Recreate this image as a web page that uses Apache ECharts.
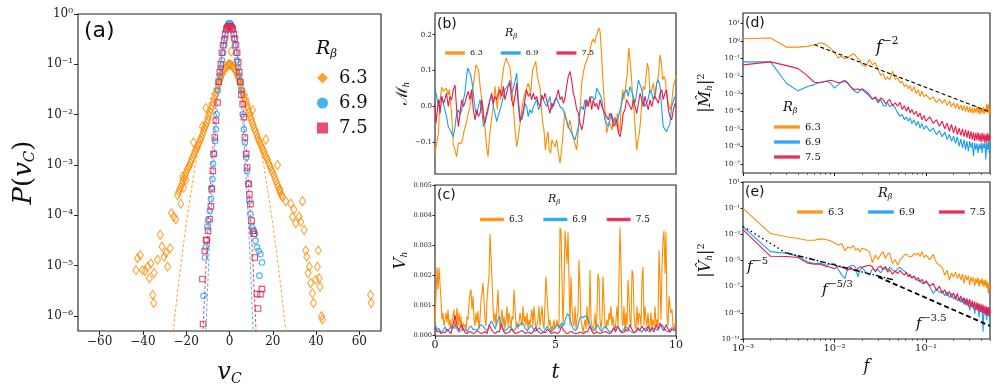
<!DOCTYPE html>
<html>
<head>
<meta charset="utf-8">
<script src="https://cdn.jsdelivr.net/npm/echarts@6/dist/echarts.min.js"></script>
<style>
  html, body { margin: 0; background: #fff; }
  #chart { width: 997px; height: 391px; }
</style>
</head>
<body>
<div id="chart"></div>
<script>
// colours / fonts
const C63 = "#ff8c00";
const C69 = "#1a9fef";
const C75 = "#e61e4b";
const SERIF = "DejaVu Serif";
const SANS = "DejaVu Sans";
const INK = "#111";

// ---- (a) PDF of v_C : [v, P] ----
const pdf63 = [
  [-24,2.5e-4],[-23.5,2.9e-4],[-23,3.2e-4],[-22.5,3.6e-4],[-22,4.2e-4],[-21.5,4.9e-4],[-21,5.4e-4],[-20.5,6.0e-4],
  [-20,7.1e-4],[-19.5,8.2e-4],[-19,8.9e-4],[-18.5,9.6e-4],[-18,1.1e-3],[-17.5,1.25e-3],[-17,1.4e-3],[-16.5,1.6e-3],
  [-16,1.8e-3],[-15.5,2.0e-3],[-15,2.2e-3],[-14.5,2.4e-3],[-14,2.8e-3],[-13.5,3.2e-3],[-13,3.5e-3],[-12.5,4.0e-3],
  [-12,4.7e-3],[-11.5,5.4e-3],[-11,6.0e-3],[-10.5,6.8e-3],[-10,7.9e-3],[-9.5,9.5e-3],[-9,1.1e-2],[-8.5,1.3e-2],
  [-8,1.5e-2],[-7.5,1.75e-2],[-7,2.1e-2],[-6.5,2.5e-2],[-6,2.8e-2],[-5.5,3.3e-2],[-5,4.0e-2],[-4.5,4.7e-2],
  [-4,5.4e-2],[-3.5,6.3e-2],[-3,7.1e-2],[-2.5,7.8e-2],[-2,8.5e-2],[-1.5,9.0e-2],[-1,9.5e-2],[-0.5,9.8e-2],[0,0.1],
  [0.5,9.8e-2],[1,9.5e-2],[1.5,9.1e-2],[2,8.5e-2],[2.5,7.8e-2],[3,7.1e-2],[3.5,6.2e-2],[4,5.4e-2],[4.5,4.7e-2],
  [5,4.0e-2],[5.5,3.4e-2],[6,2.8e-2],[6.5,2.4e-2],[7,2.1e-2],[7.5,1.8e-2],[8,1.5e-2],[8.5,1.3e-2],[9,1.1e-2],
  [9.5,9.2e-3],[10,7.9e-3],[10.5,7.0e-3],[11,6.0e-3],[11.5,5.2e-3],[12,4.7e-3],[12.5,4.1e-3],[13,3.5e-3],
  [13.5,3.1e-3],[14,2.8e-3],[14.5,2.5e-3],[15,2.2e-3],[15.5,2.0e-3],[16,1.8e-3],[16.5,1.55e-3],[17,1.4e-3],
  [17.5,1.3e-3],[18,1.1e-3],[18.5,1.0e-3],[19,8.9e-4],[19.5,7.8e-4],[20,7.1e-4],[20.5,6.2e-4],[21,5.4e-4],
  [21.5,4.8e-4],[22,4.2e-4],[22.5,3.7e-4],[23,3.2e-4],[23.5,2.8e-4],[24,2.5e-4],
  [-43.2,8.1e-6],[-42.5,1.4e-5],[-41.2,1.6e-5],[-40.2,8.1e-6],[-39,7.9e-6],[-37.8,9.5e-6],[-37,5.6e-6],[-36.3,1.1e-5],
  [-35.5,2.6e-6],[-35,1.8e-6],[-34.8,7.1e-6],[-33.2,1.3e-5],[-32,4.1e-5],[-31.2,2.4e-5],[-30.2,1.5e-5],[-29.4,1.8e-5],
  [-28.6,9.5e-6],[-27.4,2.2e-5],[-26.8,1.1e-4],[-25.8,9.3e-5],[-24.8,8.3e-5],[-22.5,1.7e-4],[-21.7,5.9e-4],
  [-21.2,3.5e-4],[-20.2,5e-4],[-16.6,2.8e-3],[-12.5,5.8e-3],[-10.9,1.35e-2],[0.8,0.18],[10.6,1.23e-2],[16.8,3.2e-3],
  [22.2,1e-3],[23.4,3.2e-4],[24.5,2.3e-4],[26,1.9e-4],[28.3,1.7e-4],[29.1,9.3e-5],[29.8,1.3e-4],[30.6,6.9e-5],
  [32.2,9.3e-5],[32.9,7.4e-5],[33.7,1.9e-4],[34.5,5.1e-5],[35.2,2e-5],[35.7,1.5e-5],[36.3,7.1e-6],[36.9,9.5e-6],
  [37.5,4.5e-6],[38.3,2.8e-6],[38.8,1.8e-6],[39.8,5.2e-6],[40.6,9.5e-6],[41,2e-5],[41.4,5.6e-6],[41.8,3.8e-6],
  [42.5,9.8e-7],[42.9,8.5e-7],[65.2,2.6e-6],[65.5,1.8e-6]
];
const pdf69 = [
  [-12,2.5e-6],[-11.3,1.45e-5],[-10.9,2.3e-5],[-10.2,5.8e-5],[-9.9,7.8e-5],[-9.1,1.23e-4],[-8.6,2.1e-4],[-8.3,3.5e-4],
  [-7.9,5.2e-4],[-7.6,1.05e-3],[-7.1,1.66e-3],[-6.6,3e-3],[-6.3,5.1e-3],[-6,1.02e-2],[-5.5,3e-2],[-5,0.045],
  [-4.5,0.06],[-4,0.085],[-3.5,0.12],[-3,0.17],[-2.5,0.24],[-2,0.33],[-1.5,0.47],[-1,0.57],[-0.5,0.64],[0,0.66],
  [0.5,0.64],[1,0.57],[1.5,0.47],[2,0.33],[2.5,0.24],[3,0.17],[3.5,0.12],[4,0.085],[4.5,0.06],[5,0.045],[5.5,0.03],
  [6.1,1.02e-2],[6.6,5.1e-3],[7.1,2.8e-3],[7.7,1.4e-3],[8.1,7.6e-4],[8.6,4.2e-4],[9.2,1.95e-4],[9.7,1.05e-4],
  [10.4,5.8e-5],[11.2,4.9e-5],[11.7,4.3e-5],[12,3.1e-5],[12.7,2.3e-5],[13.5,1.95e-5],[13.8,6.3e-6],[14.3,1.7e-5],[15,1.15e-5]
];
const pdf75 = [
  [-12.5,5.4e-6],[-12.2,6.9e-7],[-11.4,1.95e-5],[-10.8,3.2e-5],[-10.5,3.2e-5],[-9.9,4.9e-5],[-9.2,8.3e-5],[-8.6,1.5e-4],
  [-8.2,3.3e-4],[-7.7,7.6e-4],[-7.4,1.66e-3],[-6.8,3.5e-3],[-6.3,7.6e-3],[-5.5,1.74e-2],[-5,4.5e-2],[-4.5,7e-2],
  [-4,0.1],[-3.5,0.17],[-3,0.24],[-2.5,0.3],[-2,0.4],[-1.5,0.5],[-1,0.54],[-0.5,0.57],[0,0.58],[0.5,0.57],[1,0.54],
  [1.5,0.5],[2,0.4],[2.5,0.32],[3,0.24],[3.5,0.17],[4,0.11],[4.5,0.07],[5,0.045],[5.5,2.5e-2],[6.1,1.62e-2],
  [6.6,8.9e-3],[7.1,3.5e-3],[7.7,1.66e-3],[8.1,8.9e-4],[8.9,4.2e-4],[9.2,2.6e-4],[9.7,1.66e-4],[10.2,7.8e-5],
  [10.8,4.9e-5],[11.2,4.3e-5],[11.7,1.45e-5],[12.7,2.7e-6],[13.2,1.4e-6],[14.3,2.7e-6],[15,3.4e-6]
];
// dashed Gaussian fits
const fit63 = [[-27,1.95e-7],[-26,5e-7],[-24,3e-6],[-22,1.5e-5],[-20,6.8e-5],[-16,8.9e-4],[-12,6.5e-3],[-8,0.0272],[-4,0.064],[0,0.085],
  [4,0.064],[8,0.0272],[12,6.5e-3],[16,8.9e-4],[20,6.8e-5],[22,1.5e-5],[24,3e-6],[26,5e-7],[27,1.95e-7]];
const fit69 = [[-11,3.9e-7],[-10,4.7e-6],[-9,4.5e-5],[-8,3.3e-4],[-6,9.3e-3],[-4,0.099],[-2,0.41],[0,0.66],
  [2,0.41],[4,0.099],[6,9.3e-3],[8,3.3e-4],[9,4.5e-5],[10,4.7e-6],[11,3.9e-7]];
const fit75 = [[-12.6,2.2e-7],[-12,8.7e-7],[-11,7.4e-6],[-10,5.2e-5],[-8,1.48e-3],[-6,0.0204],[-4,0.13],[-2,0.4],[0,0.575],
  [2,0.4],[4,0.13],[6,0.0204],[8,1.48e-3],[10,5.2e-5],[11,7.4e-6],[12,8.7e-7],[12.6,2.2e-7]];

// ---- (b) M_h(t) : [t, M] ----
const mh63 = [[0,-0.130],[0.07,-0.126],[0.14,-0.074],[0.21,0.019],[0.28,0.054],[0.35,0.042],[0.46,0.051],[0.55,0.033],[0.59,0.048],[0.69,-0.019],[0.76,-0.107],[0.83,-0.121],[0.90,-0.140],[0.97,-0.102],[1.04,-0.098],[1.11,-0.102],[1.20,-0.070],[1.31,-0.042],[1.38,-0.019],[1.45,0.000],[1.52,0.028],[1.62,0.074],[1.70,0.116],[1.76,0.121],[1.81,0.102],[1.87,0.056],[1.94,0.019],[2.01,-0.009],[2.07,-0.056],[2.14,-0.112],[2.20,-0.140],[2.25,-0.093],[2.32,-0.047],[2.42,0.000],[2.49,0.056],[2.53,0.028],[2.59,-0.009],[2.64,0.056],[2.72,0.019],[2.78,0.074],[2.86,0.112],[2.95,0.135],[3.00,0.126],[3.06,0.116],[3.11,0.107],[3.18,0.065],[3.25,0.000],[3.32,-0.065],[3.39,-0.112],[3.46,-0.084],[3.53,-0.047],[3.60,-0.009],[3.69,0.028],[3.78,0.047],[3.87,0.065],[3.97,0.037],[4.05,0.102],[4.11,0.112],[4.18,0.126],[4.25,0.084],[4.30,0.088],[4.36,0.051],[4.41,0.000],[4.47,-0.047],[4.52,-0.065],[4.58,-0.121],[4.63,-0.093],[4.69,-0.070],[4.74,-0.121],[4.80,-0.130],[4.85,-0.093],[4.91,-0.102],[4.98,-0.112],[5.05,-0.093],[5.12,-0.130],[5.19,-0.158],[5.26,-0.112],[5.33,-0.065],[5.38,-0.014],[5.44,-0.037],[5.53,-0.060],[5.60,-0.037],[5.67,-0.065],[5.74,-0.088],[5.81,-0.093],[5.88,-0.121],[5.95,-0.065],[6.02,-0.009],[6.09,0.065],[6.15,0.093],[6.22,0.116],[6.29,0.126],[6.36,0.121],[6.40,0.149],[6.46,0.167],[6.51,0.181],[6.57,0.188],[6.63,0.177],[6.68,0.195],[6.74,0.205],[6.79,0.219],[6.85,0.209],[6.90,0.158],[6.96,0.084],[7.01,0.028],[7.07,-0.028],[7.12,-0.074],[7.18,-0.056],[7.23,-0.042],[7.29,-0.047],[7.34,-0.065],[7.40,-0.037],[7.46,-0.028],[7.51,-0.056],[7.57,-0.019],[7.62,-0.074],[7.68,-0.065],[7.73,0.009],[7.79,0.047],[7.84,0.019],[7.93,0.065],[7.98,0.093],[8.04,0.163],[8.09,0.130],[8.15,0.084],[8.20,0.028],[8.26,-0.014],[8.31,-0.065],[8.37,-0.121],[8.42,-0.093],[8.48,-0.074],[8.53,-0.037],[8.59,0.019],[8.64,0.056],[8.70,0.047],[8.76,0.084],[8.81,0.121],[8.87,0.102],[8.92,0.037],[9.00,0.047],[9.06,0.065],[9.13,0.019],[9.20,0.065],[9.27,0.084],[9.34,0.144],[9.39,0.121],[9.45,0.074],[9.50,0.084],[9.56,0.074],[9.61,0.028],[9.68,0.009],[9.75,-0.009],[9.82,0.009],[9.89,0.056],[9.96,0.074],[10.0,0.084]];
const mh69 = [[0,0.051],[0.07,0.028],[0.14,0],[0.21,0.019],[0.28,0.028],[0.35,0.009],[0.41,-0.009],[0.48,-0.028],[0.55,-0.056],[0.62,-0.065],[0.69,-0.060],[0.76,-0.084],[0.83,-0.056],[0.90,-0.019],[0.97,-0.009],[1.04,-0.023],[1.11,-0.009],[1.18,0.019],[1.24,0.037],[1.31,0.084],[1.36,0.107],[1.42,0.098],[1.48,0.088],[1.52,0.074],[1.56,0.056],[1.62,0.019],[1.67,-0.009],[1.73,-0.023],[1.80,0],[1.87,0.019],[1.94,-0.009],[2.01,-0.056],[2.07,-0.060],[2.14,-0.028],[2.21,-0.009],[2.28,0.019],[2.35,0.028],[2.42,0],[2.49,-0.019],[2.56,-0.042],[2.63,-0.023],[2.70,-0.009],[2.77,0.009],[2.84,0.028],[2.90,0.047],[2.97,0.051],[3.04,0.060],[3.11,0.074],[3.18,0.037],[3.25,0.051],[3.32,0.070],[3.39,0.093],[3.46,0.019],[3.53,-0.028],[3.60,-0.037],[3.67,-0.019],[3.73,0.009],[3.80,0],[3.87,-0.028],[3.94,-0.009],[4.01,-0.019],[4.08,0],[4.15,0.009],[4.22,0.019],[4.29,-0.009],[4.36,0],[4.43,0.033],[4.50,0.019],[4.56,0.009],[4.63,0],[4.70,0.014],[4.77,0.028],[4.84,-0.009],[4.91,0.009],[5.05,0.023],[5.19,0],[5.33,-0.009],[5.46,-0.037],[5.53,-0.056],[5.60,-0.065],[5.67,-0.074],[5.74,-0.084],[5.81,-0.093],[5.88,-0.074],[5.95,-0.056],[6.02,-0.009],[6.09,0],[6.15,-0.009],[6.22,0.019],[6.29,0],[6.36,0.009],[6.43,0.019],[6.50,0.028],[6.57,0.033],[6.64,0.019],[6.71,0.051],[6.78,0.047],[6.85,0.033],[6.92,0.019],[6.98,-0.009],[7.05,-0.037],[7.12,-0.047],[7.19,-0.056],[7.26,-0.037],[7.33,-0.019],[7.40,-0.047],[7.47,-0.033],[7.54,-0.042],[7.61,-0.028],[7.68,-0.009],[7.75,0.009],[7.81,0.033],[7.88,0.028],[7.95,0.047],[8.02,0.028],[8.09,0.056],[8.16,0.051],[8.23,0.028],[8.30,0.009],[8.37,0.037],[8.44,0.074],[8.51,0.060],[8.58,0.047],[8.64,0.019],[8.71,0],[8.78,0.009],[8.85,0.023],[8.92,0.047],[8.99,0.037],[9.06,0.019],[9.13,0.037],[9.20,0.065],[9.27,0.074],[9.34,0.056],[9.41,-0.009],[9.47,-0.056],[9.54,-0.060],[9.61,-0.070],[9.68,-0.065],[9.75,-0.047],[9.82,0],[9.89,0.014],[9.96,0.028],[10,0.037]];
const mh75 = [[0,0.009],[0.04,-0.047],[0.10,-0.009],[0.15,0.019],[0.21,-0.019],[0.28,0.028],[0.35,0.009],[0.41,0.019],[0.48,0.037],[0.55,0],[0.62,0.028],[0.69,0.019],[0.76,0.047],[0.83,0.060],[0.90,-0.009],[0.97,-0.056],[1.04,-0.019],[1.11,0.019],[1.18,0],[1.24,0.009],[1.31,0.028],[1.38,0.042],[1.45,0.019],[1.52,0.047],[1.59,-0.009],[1.66,-0.037],[1.73,-0.009],[1.80,-0.028],[1.87,-0.019],[1.94,0.019],[2.01,-0.028],[2.07,-0.047],[2.14,-0.019],[2.21,0],[2.28,0.019],[2.35,0.037],[2.42,0.009],[2.49,0.028],[2.56,0.019],[2.63,0.037],[2.70,0.047],[2.77,0.028],[2.84,0.056],[2.90,0.019],[2.97,0.037],[3.04,0.056],[3.11,0.065],[3.18,0.019],[3.25,0],[3.32,0.028],[3.39,0.065],[3.46,0],[3.53,-0.042],[3.60,-0.028],[3.67,-0.009],[3.73,0.019],[3.80,0.047],[3.87,0.028],[3.94,0.037],[4.01,0.019],[4.08,0.037],[4.15,0.019],[4.22,0.028],[4.29,0.009],[4.36,0],[4.43,0.028],[4.50,0.019],[4.56,0.037],[4.63,0.019],[4.70,0],[4.77,-0.019],[4.84,0.009],[4.91,0],[4.98,0.019],[5.05,0.028],[5.12,0.047],[5.19,0.019],[5.26,0.028],[5.33,0.009],[5.39,0.023],[5.46,0.056],[5.53,0.084],[5.60,0.098],[5.67,0.074],[5.74,0.037],[5.81,0.019],[5.88,-0.009],[5.95,-0.019],[6.02,-0.047],[6.09,-0.065],[6.15,-0.047],[6.22,-0.009],[6.29,0.019],[6.36,0],[6.43,0.028],[6.50,-0.009],[6.57,0.019],[6.64,0],[6.71,0.009],[6.78,-0.009],[6.85,0.019],[6.92,0],[6.98,-0.009],[7.05,-0.019],[7.12,-0.028],[7.19,-0.037],[7.26,-0.019],[7.33,-0.028],[7.40,-0.056],[7.47,-0.047],[7.54,-0.037],[7.61,-0.074],[7.68,-0.084],[7.75,-0.056],[7.81,-0.019],[7.88,-0.009],[7.95,0.019],[8.02,0.009],[8.09,0],[8.16,-0.009],[8.23,0.019],[8.30,0],[8.37,-0.019],[8.44,0.009],[8.51,0.037],[8.58,0.019],[8.64,0],[8.71,0.028],[8.78,0.009],[8.85,-0.009],[8.92,0.019],[8.99,0],[9.06,0.019],[9.13,0.028],[9.20,0.019],[9.27,0.009],[9.34,0.037],[9.41,0.047],[9.47,0.019],[9.54,0.037],[9.61,0.047],[9.68,-0.009],[9.75,-0.028],[9.82,-0.037],[9.89,-0.009],[9.96,0.009],[10,0]];

// ---- (c) V_h(t), evenly sampled over t = 0..10, values in units of 1e-3 ----
const vh63 = [0.31,1.29,2.25,1.51,2.25,2.25,1.18,0.52,0.74,0.31,0.52,0.74,0.42,0.85,0.31,0.52,0.20,0.42,0.63,0.85,0.20,0.52,0.91,0.31,0.74,0.31,0.63,0.14,0.42,0.25,0.36,0.14,0.63,0.52,1.07,1.40,1.51,0.85,1.29,0.52,0.31,0.74,0.42,0.80,0.20,0.52,1.18,1.40,1.73,1.18,0.52,0.31,1.18,1.62,1.95,3.37,2.60,1.84,0.96,0.42,0.74,0.31,0.96,1.51,0.52,0.20,0.52,0.85,0.31,0.63,0.20,0.52,0.96,0.31,0.74,0.52,0.20,0.63,0.52,1.51,0.96,0.31,0.42,0.20,0.42,0.74,0.52,0.31,0.96,0.42,0.63,0.31,0.74,0.20,0.52,0.31,0.63,0.85,0.31,0.96,0.52,0.20,0.31,0.52,0.96,0.31,0.63,0.96,0.42,0.20,1.07,1.95,2.00,0.74,0.31,0.52,0.09,0.31,0.20,0.52,0.20,0.31,0.52,0.31,0.20,3.58,3.48,1.84,0.31,1.51,3.48,3.42,2.38,3.42,1.84,0.31,1.95,0.96,0.42,0.31,0.96,0.20,0.52,0.74,2.49,1.62,0.52,0.31,0.09,0.31,0.52,0.20,0.96,0.31,0.42,2.16,0.52,0.31,0.20,0.31,0.74,0.09,0.74,2.05,1.84,0.52,0.20,0.52,1.95,1.07,0.31,0.20,0.52,0.31,0.74,0.52,0.96,0.31,0.63,0.31,0.09,0.52,0.96,0.31,1.84,3.58,2.38,0.52,0.31,0.96,0.09,0.74,0.31,1.84,1.18,0.52,0.31,2.16,2.05,0.74,0.31,0.20,0.96,0.31,0.74,0.63,0.31,1.84,2.27,0.31,0.96,0.52,0.31,0.74,0.20,0.31,0.74,0.20,0.52,0.31,0.96,0.31,0.52,0.31,2.82,1.84,0.52,2.27,3.15,3.48,2.05,3.42,0.63,0.31,1.29,0.96,0.74,0.85,0.31,0.20,0.42,0.31];
const vh69 = [0.38,0.18,0.22,0.10,0.15,0.28,0.12,0.20,0.30,0.22,0.36,0.20,
  0.10,0.15,0.22,0.18,0.12,0.25,0.30,0.18,0.20,0.15,0.28,0.35,
  0.30,0.20,0.15,0.30,0.47,0.35,0.20,0.45,0.62,0.40,0.20,0.15,
  0.20,0.30,0.25,0.15,0.20,0.35,0.30,0.42,0.38,0.20,0.15,0.25,
  0.32,0.20,0.12,0.18,0.25,0.15,0.10,0.20,0.30,0.18,0.12,0.20,
  0.28,0.35,0.25,0.40,0.30,0.55,0.72,0.60,0.35,0.20,0.15,0.25,
  0.55,0.62,0.58,0.65,0.60,0.40,0.20,0.15,0.25,0.35,0.20,0.12,
  0.25,0.30,0.18,0.10,0.15,0.22,0.30,0.25,0.18,0.12,0.20,0.28,
  0.22,0.15,0.10,0.08,0.12,0.18,0.15,0.10,0.20,0.25,0.15,0.10,
  0.18,0.25,0.20,0.15,0.30,0.35,0.25,0.15,0.10,0.18,0.25,0.20,0.25];
const vh75 = [0.25,0.10,0.15,0.05,0.10,0.08,0.20,0.12,0.05,0.35,0.66,0.30,
  0.15,0.35,0.20,0.08,0.05,0.12,0.10,0.05,0.08,0.15,0.10,0.05,
  0.08,0.12,0.05,0.35,0.20,0.10,0.05,0.12,0.10,0.35,0.15,0.05,
  0.08,0.10,0.20,0.12,0.05,0.08,0.10,0.15,0.12,0.05,0.10,0.08,
  0.05,0.12,0.25,0.15,0.08,0.05,0.10,0.08,0.20,0.12,0.05,0.10,
  0.08,0.05,0.10,0.30,0.15,0.08,0.05,0.10,0.12,0.08,0.05,0.06,
  0.10,0.08,0.05,0.12,0.10,0.30,0.15,0.05,0.08,0.10,0.05,0.08,
  0.10,0.12,0.08,0.05,0.10,0.25,0.12,0.30,0.15,0.08,0.10,0.20,
  0.12,0.35,0.20,0.08,0.10,0.25,0.15,0.30,0.20,0.12,0.30,0.15,
  0.25,0.10,0.35,0.20,0.40,0.25,0.15,0.35,0.20,0.10,0.20,0.15,0.20];
const T_END = 10;

// ---- (d), (e) spectra on a common frequency list ----
const freq = [0.001,0.002,0.003,0.004,0.005,0.006,0.007,0.008,0.009,0.010,0.011,0.012,0.013,0.014,0.015,0.016,0.017,0.018,0.019,0.020,
  0.022,0.024,0.026,0.028,0.030,0.032,0.034,0.036,0.038,0.040,
  0.043,0.046,0.049,0.052,0.055,0.058,0.061,0.064,0.067,0.070,
  0.074,0.078,0.082,0.086,0.090,0.095,0.100,
  0.11,0.12,0.13,0.14,0.15,0.16,0.17,0.18,0.19,0.20,0.21,0.22,0.23,0.24,0.25,0.26,0.27,0.28,0.29,0.30,
  0.31,0.32,0.33,0.34,0.35,0.36,0.37,0.38,0.39,0.40,0.41,0.42,0.43,0.44,0.45,0.46,0.47,0.48,0.49,0.50];
const specM63 = [1.35,1.5,0.45,0.45,0.5,0.6,0.8,0.63,0.4,0.23,0.11,0.14,0.095,0.126,0.15,0.19,0.15,0.1,0.08,0.045,
  0.037,0.09,0.045,0.058,0.024,0.011,0.014,0.0065,0.009,0.006,
  0.019,0.0065,0.008,0.0042,0.0051,0.0025,0.0033,0.0019,0.0029,0.0014,
  0.0025,0.001,0.0017,7e-4,0.0014,6.6e-4,9e-4,
  4.7e-4,6.6e-4,3.2e-4,5e-4,2.75e-4,4.7e-4,2.1e-4,3.7e-4,1.8e-4,3e-4,1.5e-4,2.75e-4,1.26e-4,2.3e-4,1.05e-4,2.1e-4,9.5e-5,1.95e-4,8.7e-5,1.8e-4,
  8e-5,1.6e-4,7.4e-5,1.5e-4,8.7e-5,1.95e-4,7.4e-5,1.55e-4,6.5e-5,1.5e-4,8e-5,1.8e-4,6.8e-5,1.4e-4,8.7e-5,2.75e-4,8e-5,2.4e-4,6.5e-5,1.55e-4];
const specM69 = [0.065,0.065,3.8e-3,1.45e-3,2.5e-3,3.3e-3,4.5e-3,5.1e-3,4.2e-3,2.1e-3,3.3e-3,5.1e-3,5.6e-3,4.2e-3,2.5e-3,1.6e-3,1.3e-3,1.1e-3,1.6e-3,1.7e-3,
  1.1e-3,7.2e-4,4.7e-4,5.8e-4,3e-4,4.7e-4,2.1e-4,1.95e-4,3e-4,1.8e-4,
  2.3e-4,1.55e-4,8e-5,5.1e-5,6.5e-5,3.3e-5,4.8e-5,2.7e-5,4.2e-5,2e-5,
  3.2e-5,1.5e-5,2.7e-5,1.1e-5,2e-5,9e-6,1.5e-5,
  7.2e-6,1.1e-5,4.7e-6,8e-6,3.5e-6,6.3e-6,2.4e-6,4.7e-6,1.95e-6,3.8e-6,1.45e-6,3.5e-6,1e-6,2.6e-6,8e-7,2.4e-6,6.5e-7,1.95e-6,5.2e-7,1.95e-6,
  8e-7,1.7e-6,2.7e-7,1.6e-6,6.5e-7,1.45e-6,4.2e-7,1.3e-6,7e-7,1.6e-6,4e-7,1.45e-6,8e-7,1.7e-6,1.75e-7,1.6e-6,6.5e-7,1.95e-6,4.2e-7,1e-6];
const specM75 = [0.044,0.065,0.04,0.027,0.011,4.5e-3,4.2e-3,5.1e-3,5.9e-3,5.1e-3,4.2e-3,4.5e-3,5.3e-3,3.8e-3,2.5e-3,1.9e-3,1.7e-3,1.9e-3,1.6e-3,1.9e-3,
  1.4e-3,9e-4,5e-4,6.6e-4,3.7e-4,5.8e-4,4.7e-4,2.75e-4,3.7e-4,4.7e-4,
  2.1e-4,3e-4,1.95e-4,3.2e-4,1.26e-4,2.1e-4,1e-4,1.8e-4,8e-5,1.26e-4,
  6.5e-5,1e-4,4.8e-5,8e-5,3.3e-5,5.7e-5,2.7e-5,
  4.8e-5,2e-5,3.3e-5,1.4e-5,2.7e-5,1e-5,2.1e-5,7.2e-6,1.75e-5,5.8e-6,1.4e-5,4.7e-6,1.1e-5,4.2e-6,1e-5,3.5e-6,9e-6,3.1e-6,8e-6,2.6e-6,
  7.2e-6,2.4e-6,6.3e-6,1.95e-6,5.8e-6,2.2e-6,6.3e-6,1.95e-6,5.3e-6,1.7e-6,5.8e-6,1.95e-6,5.3e-6,1.6e-6,4.7e-6,1.7e-6,5.8e-6,1.95e-6,4.7e-6,2.4e-6];
const specV63 = [0.095,1.15e-3,6.5e-4,4.8e-4,3.5e-4,3.5e-4,4.5e-4,4e-4,3.2e-4,2.2e-4,1.5e-4,2e-4,5.5e-5,1.1e-4,8.5e-5,1.4e-4,6.2e-5,8.5e-5,4.6e-5,8.5e-5,
  7e-5,4.6e-5,6.8e-6,2.6e-5,1.2e-5,3e-5,4.6e-5,1.4e-5,3e-5,3.8e-5,
  5.9e-6,1.2e-5,4.4e-6,1.1e-5,1.7e-5,2.6e-5,3e-5,2.1e-5,2.6e-5,2e-5,
  3.4e-5,2.6e-5,3.8e-5,2.1e-5,4.6e-5,1.7e-5,2.6e-5,
  1.1e-5,3e-5,6.6e-6,4.4e-6,3e-6,7.6e-7,1.8e-6,3.2e-7,1.1e-6,5.6e-7,1.3e-6,4.3e-7,1e-6,3.2e-7,9e-7,1.8e-7,7.6e-7,3.2e-7,6.4e-7,1.3e-7,
  5.6e-7,2.4e-7,5e-7,1.1e-7,4.3e-7,1.8e-7,5e-7,9.8e-8,3.6e-7,1.6e-7,4.3e-7,9.8e-8,3.2e-7,1.1e-7,3.6e-7,8.5e-8,2.4e-7,3e-8,1.8e-7,8.5e-8];
const specV69 = [3.7e-3,4.8e-5,3.6e-5,2e-5,8.3e-6,5.9e-6,6.3e-6,4.4e-6,5.2e-6,5.9e-6,2e-6,8e-7,4.3e-7,3e-6,4e-6,4.4e-6,3e-6,5.6e-7,1.8e-6,3e-6,
  1.3e-6,7.6e-7,2.4e-6,1.8e-6,2e-6,1.1e-6,2.4e-6,3.7e-6,1.8e-6,3e-6,
  2e-6,1.3e-6,2.4e-6,3e-6,2e-6,1.6e-6,1.1e-6,7.6e-7,1e-6,5e-7,
  6.4e-7,3.6e-7,5e-7,2.4e-7,3.2e-7,1.6e-7,2.4e-7,
  9.8e-8,3e-8,7e-8,3.4e-8,5e-8,2e-8,4e-8,1.5e-8,3e-8,1.1e-8,2e-8,8.5e-9,1.5e-8,6.3e-9,1.3e-8,4.2e-9,1.1e-8,3.5e-9,8.5e-9,1.5e-9,
  6.3e-9,2.6e-9,5.4e-9,8.3e-10,4.2e-9,1.7e-9,4.8e-9,4.7e-10,3e-9,1.2e-9,3.5e-9,3.6e-11,2e-9,8.3e-10,2.8e-9,2.8e-10,2e-9,6e-10,1.5e-9,8.7e-11];
const specV75 = [2.3e-3,2.1e-5,2e-5,1.7e-5,6.6e-6,5.2e-6,5.2e-6,3.7e-6,3e-6,2.4e-6,3.7e-6,3e-6,2.4e-6,1.8e-6,3e-6,2e-6,1.6e-6,2.4e-6,3.3e-6,3e-6,
  3.7e-6,4.4e-6,3.3e-6,1.3e-6,3e-6,3.7e-6,2e-6,3e-6,1.3e-6,2e-6,
  9e-7,1.6e-6,1e-6,1.8e-6,1.1e-6,7.6e-7,1.3e-6,5.6e-7,9e-7,4.3e-7,
  6.4e-7,3.2e-7,5e-7,2.4e-7,3.6e-7,1.8e-7,2.8e-7,
  1.1e-7,1.8e-7,5e-8,1.1e-7,3e-8,5.8e-8,2e-8,4.4e-8,1.5e-8,3.4e-8,1.1e-8,3e-8,7.5e-9,2e-8,6.3e-9,1.5e-8,4.2e-9,1.3e-8,3e-9,1.1e-8,
  2.8e-9,8.5e-9,2e-9,7.5e-9,1.7e-9,6.3e-9,1.4e-9,5.4e-9,1.2e-9,4.8e-9,1e-9,4.2e-9,8.3e-10,3.5e-9,6e-10,3e-9,7e-10,2.8e-9,5e-10,2e-9];
// reference power laws
const lawD2 = [[0.006,0.63],[0.5,9e-5]];
const lawE5 = [[0.001,4e-3],[0.003,3.5e-5]];
const lawE53 = [[0.003,3.8e-5],[0.045,3.2e-7]];
const lawE35 = [[0.03,5.6e-7],[0.5,1e-10]];

// tick values
const ticksA_x = [-60,-40,-20,0,20,40,60];
const ticksA_y = [1e-6,1e-5,1e-4,1e-3,1e-2,1e-1,1];
const ticksB_y = [-0.1,0,0.1,0.2];
const ticksC_y = [0,1,2,3,4,5];
const ticksC_x = [0,5,10];
const ticksD_y = [1e-7,1e-6,1e-5,1e-4,1e-3,1e-2,1e-1,1,10];
const ticksE_y = [1e-11,1e-9,1e-7,1e-5,1e-3,1e-1,10];
const ticksF = [0.001,0.01,0.1];
const minorF = [0.002,0.003,0.004,0.005,0.006,0.007,0.008,0.009,0.02,0.03,0.04,0.05,0.06,0.07,0.08,0.09,0.2,0.3,0.4,0.5];

const SUP = {"-":"⁻","0":"⁰","1":"¹","2":"²","3":"³","4":"⁴","5":"⁵","6":"⁶","7":"⁷","8":"⁸","9":"⁹"};
function pow10Label(v) {
  const e = Math.round(Math.log10(v));
  return "10" + String(e).split("").map((c) => SUP[c]).join("");
}
function minusLabel(v) {
  return v < 0 ? "\u2212" + Math.abs(v) : String(v);
}

function baseAxis(extra) {
  return Object.assign({
    axisLine: { show: false, onZero: false },
    splitLine: { show: false },
    axisTick: { length: 3, lineStyle: { color: "#222", width: 0.8 } },
    axisLabel: { color: "#222", fontFamily: SERIF, fontSize: 7, margin: 3 },
  }, extra);
}

function lineSeries(name, data, color, xi, yi, extra) {
  return Object.assign({
    type: "line", name: name, data: data, xAxisIndex: xi, yAxisIndex: yi,
    showSymbol: false, symbol: "none", lineStyle: { color: color, width: 1.1 },
    itemStyle: { color: color }, animation: false,
  }, extra || {});
}

const tc = (arr) => arr.map((v, i) => [i * T_END / (arr.length - 1), v]);
const spec = (arr) => freq.map((f, i) => [f, arr[i]]);

const grids = [
  { left: 78, top: 14, width: 303, height: 317 },
  { left: 435, top: 13, width: 241, height: 161 },
  { left: 435, top: 185, width: 241, height: 151 },
  { left: 743, top: 13, width: 247, height: 160 },
  { left: 743, top: 182, width: 247, height: 157 },
].map((g) => Object.assign(g, { show: true, borderColor: "#222", borderWidth: 1.1, containLabel: false, outerBoundsMode: "none" }));

const it = { fontFamily: SERIF, fontStyle: "italic", color: INK };

const xAxes = [
  baseAxis({ gridIndex: 0, type: "value", min: -70, max: 70,
    axisTick: { length: 4, customValues: ticksA_x, lineStyle: { color: "#222" } },
    axisLabel: { customValues: ticksA_x, formatter: minusLabel, fontFamily: SERIF, fontSize: 12, color: "#222", margin: 5 },
    name: "{i|v}{s|C}", nameLocation: "middle", nameGap: 29,
    nameTextStyle: { rich: { i: Object.assign({}, it, { fontSize: 24 }), s: Object.assign({}, it, { fontSize: 14, padding: [12, 0, 0, 0] }) } } }),
  baseAxis({ gridIndex: 1, type: "value", min: 0, max: 10, axisTick: { show: false }, axisLabel: { show: false } }),
  baseAxis({ gridIndex: 2, type: "value", min: 0, max: 10,
    axisTick: { length: 3, customValues: ticksC_x, lineStyle: { color: "#222" } },
    axisLabel: { customValues: ticksC_x, fontFamily: SERIF, fontSize: 11, color: "#222", margin: 4 },
    name: "{i|t}", nameLocation: "middle", nameGap: 27,
    nameTextStyle: { rich: { i: Object.assign({}, it, { fontSize: 20 }) } } }),
  baseAxis({ gridIndex: 3, type: "log", min: 0.00099995, max: 0.5,
    axisTick: { length: 3, customValues: ticksF, lineStyle: { color: "#222" } },
    axisLabel: { show: false } }),
  baseAxis({ gridIndex: 4, type: "log", min: 0.00099995, max: 0.5, position: "bottom",
    axisTick: { length: 3.5, customValues: ticksF, lineStyle: { color: "#222" } },
    axisLabel: { customValues: ticksF, formatter: pow10Label, fontFamily: SERIF, fontSize: 10, color: "#222", margin: 4 },
    name: "{i|f}", nameLocation: "middle", nameGap: 20,
    nameTextStyle: { rich: { i: Object.assign({}, it, { fontSize: 16 }) } } }),
  baseAxis({ gridIndex: 4, type: "log", min: 0.00099995, max: 0.5, position: "bottom",
    axisTick: { length: 2, customValues: minorF, lineStyle: { color: "#222", width: 0.6 } },
    axisLabel: { show: false } }),
  baseAxis({ gridIndex: 3, type: "log", min: 0.00099995, max: 0.5, position: "bottom",
    axisTick: { length: 2, customValues: minorF, lineStyle: { color: "#222", width: 0.6 } },
    axisLabel: { show: false } }),
];

const hatRich = {
  n: { fontFamily: SERIF, fontSize: 16, color: INK },
  m: Object.assign({}, it, { fontSize: 16 }),
  s: Object.assign({}, it, { fontSize: 9, padding: [8, 0, 0, 0] }),
  p: { fontFamily: SERIF, fontSize: 10, color: INK, padding: [0, 0, 10, 0] },
};

const yAxes = [
  baseAxis({ gridIndex: 0, type: "log", min: 5e-7, max: 1,
    axisTick: { length: 4, customValues: ticksA_y, lineStyle: { color: "#222" } },
    axisLabel: { customValues: ticksA_y, formatter: pow10Label, fontFamily: SERIF, fontSize: 12, color: "#222", margin: 5 },
    name: "{i|P}{n|(}{i|v}{s|C}{n|)}", nameLocation: "middle", nameGap: 40, nameRotate: 90,
    nameTextStyle: { rich: {
      i: Object.assign({}, it, { fontSize: 26 }),
      n: { fontFamily: SERIF, fontSize: 26, color: INK },
      s: Object.assign({}, it, { fontSize: 15, padding: [12, 0, 0, 0] }) } } }),
  baseAxis({ gridIndex: 1, type: "value", min: -0.188, max: 0.2605,
    axisTick: { length: 2.5, customValues: ticksB_y, lineStyle: { color: "#222" } },
    axisLabel: { customValues: ticksB_y, formatter: (v) => (v < 0 ? "\u2212" : "") + Math.abs(v).toFixed(1), fontFamily: SERIF, fontSize: 7, color: "#222", margin: 3 },
    name: "{m|ℳ}{s|h}", nameLocation: "middle", nameGap: 21, nameRotate: 90,
    nameTextStyle: { rich: { m: { fontFamily: SERIF, fontSize: 16, color: INK }, s: Object.assign({}, it, { fontSize: 9, padding: [8, 0, 0, 0] }) } } }),
  baseAxis({ gridIndex: 2, type: "value", min: -0.03, max: 5,
    axisTick: { length: 2.5, customValues: ticksC_y, lineStyle: { color: "#222" } },
    axisLabel: { customValues: ticksC_y, formatter: (v) => (v / 1000).toFixed(3), fontFamily: SERIF, fontSize: 6.5, color: "#222", margin: 3 },
    name: "{m|V}{s|h}", nameLocation: "middle", nameGap: 23, nameRotate: 90,
    nameTextStyle: { rich: { m: Object.assign({}, it, { fontSize: 16 }), s: Object.assign({}, it, { fontSize: 9, padding: [8, 0, 0, 0] }) } } }),
  baseAxis({ gridIndex: 3, type: "log", min: 3e-8, max: 40,
    axisTick: { length: 2.5, customValues: ticksD_y, lineStyle: { color: "#222" } },
    axisLabel: { customValues: ticksD_y, formatter: pow10Label, fontFamily: SERIF, fontSize: 7, color: "#222", margin: 3 },
    name: "{n||}{m|M̂}{s|h}{n||}{p|2}", nameLocation: "middle", nameGap: 27, nameRotate: 90,
    nameTextStyle: { rich: hatRich } }),
  baseAxis({ gridIndex: 4, type: "log", min: 0.99995e-11, max: 10.0005,
    axisTick: { length: 2.5, customValues: ticksE_y, lineStyle: { color: "#222" } },
    axisLabel: { customValues: ticksE_y, formatter: pow10Label, fontFamily: SERIF, fontSize: 7, color: "#222", margin: 3 },
    name: "{n||}{m|V̂}{s|h}{n||}{p|2}", nameLocation: "middle", nameGap: 27, nameRotate: 90,
    nameTextStyle: { rich: hatRich } }),
];

function hollow(name, data, symbol, size, color) {
  return { type: "scatter", name: name, data: data, xAxisIndex: 0, yAxisIndex: 0,
    symbol: symbol, symbolSize: size, animation: false,
    itemStyle: { color: "rgba(0,0,0,0)", borderColor: color, borderWidth: 1.1 } };
}
const dashed = (name, data, color) => lineSeries(name, data, color, 0, 0,
  { lineStyle: { color: color, width: 0.8, type: [3, 2] }, z: 1 });
const black = (name, data, type, width, xi, yi) => lineSeries(name, data, "#000", xi, yi,
  { lineStyle: { color: "#000", width: width, type: type }, z: 5 });

const series = [
  hollow("6.3", pdf63, "diamond", [6, 9], C63),
  hollow("6.9", pdf69, "circle", 5.5, C69),
  hollow("7.5", pdf75, "rect", 5.5, C75),
  dashed("fit63", fit63, C63),
  dashed("fit69", fit69, C69),
  dashed("fit75", fit75, C75),

  lineSeries("6.3", mh63, C63, 1, 1),
  lineSeries("6.9", mh69, C69, 1, 1),
  lineSeries("7.5", mh75, C75, 1, 1),

  lineSeries("6.3", tc(vh63), C63, 2, 2),
  lineSeries("6.9", tc(vh69), C69, 2, 2),
  lineSeries("7.5", tc(vh75), C75, 2, 2),

  lineSeries("6.3", spec(specM63), C63, 3, 3),
  lineSeries("6.9", spec(specM69), C69, 3, 3),
  lineSeries("7.5", spec(specM75), C75, 3, 3),
  black("f-2", lawD2, [4, 2.5], 1.1, 3, 3),

  lineSeries("6.3", spec(specV63), C63, 4, 4),
  lineSeries("6.9", spec(specV69), C69, 4, 4),
  lineSeries("7.5", spec(specV75), C75, 4, 4),
  black("f-5", lawE5, [1.5, 3], 1.4, 4, 4),
  black("f-5/3", lawE53, [6, 2, 1.5, 2], 1.4, 4, 4),
  black("f-3.5", lawE35, [5, 3], 1.8, 4, 4),
];

function lineLegend(extra, fontSize, w) {
  return Object.assign({
    selectedMode: false, icon: "rect", itemWidth: w, itemHeight: 1.5, width: 240,
    textStyle: { fontFamily: SERIF, fontSize: fontSize, color: INK, padding: [0, 0, 0, 1] },
    data: [
      { name: "6.3", itemStyle: { color: C63 } },
      { name: "6.9", itemStyle: { color: C69 } },
      { name: "7.5", itemStyle: { color: C75 } },
    ],
  }, extra);
}
const legends = [
  { selectedMode: false, orient: "vertical", left: 312, top: 64, itemWidth: 11, itemHeight: 11, itemGap: 7,
    textStyle: { fontFamily: SERIF, fontSize: 18, color: INK, padding: [0, 0, 0, 6] },
    data: [
      { name: "6.3", icon: "diamond", itemStyle: { color: C63, borderWidth: 0 } },
      { name: "6.9", icon: "circle", itemStyle: { color: C69, borderWidth: 0 } },
      { name: "7.5", icon: "rect", itemStyle: { color: C75, borderWidth: 0 } },
    ] },
  lineLegend({ orient: "horizontal", left: 440, top: 44, itemGap: 18 }, 8, 18),
  lineLegend({ orient: "horizontal", left: 475, top: 210, itemGap: 20 }, 9, 22),
  lineLegend({ orient: "vertical", left: 769, top: 117, itemGap: 5 }, 10, 24),
  lineLegend({ orient: "horizontal", left: 797, top: 207, itemGap: 24, width: 200, padding: 0 }, 10, 24),
];

function rbTitle(x, y, size) {
  return { type: "text", left: x, top: y, silent: true, style: {
    text: "{r|R}{b|β}", rich: {
      r: { fontFamily: SERIF, fontStyle: "italic", fontSize: size, fill: INK },
      b: { fontFamily: SERIF, fontStyle: "italic", fontSize: size * 0.62, fill: INK, padding: [size * 0.5, 0, 0, 0] } } } };
}
function powerText(x, y, exp, size) {
  return { type: "text", left: x, top: y, silent: true, style: {
    text: "{f|f}{p|" + exp + "}", rich: {
      f: { fontFamily: SERIF, fontStyle: "italic", fontSize: size, fill: INK },
      p: { fontFamily: SERIF, fontSize: size * 0.66, fill: INK, padding: [0, 0, size * 0.75, 1] } } } };
}
function panelTag(x, y, txt, size) {
  return { type: "text", left: x, top: y, silent: true, style: { text: txt, fontFamily: SANS, fontSize: size, fill: INK } };
}

const graphic = [
  panelTag(84, 20, "(a)", 22),
  panelTag(437, 17, "(b)", 14),
  panelTag(437, 188, "(c)", 14),
  panelTag(745, 16, "(d)", 14),
  panelTag(745, 185, "(e)", 14),
  rbTitle(316, 40, 19),
  rbTitle(505, 28, 11),
  rbTitle(548, 194, 11),
  rbTitle(783, 101, 13),
  rbTitle(878, 187, 13),
  powerText(876, 36, "\u22122", 16),
  powerText(747, 256, "\u22125", 15),
  powerText(822, 279, "\u22125/3", 15),
  powerText(916, 313, "\u22123.5", 15),
];

const chart = echarts.init(document.getElementById("chart"), null, { renderer: "canvas" });
chart.setOption({
  backgroundColor: "#fff",
  animation: false,
  textStyle: { fontFamily: SERIF },
  grid: grids,
  xAxis: xAxes,
  yAxis: yAxes,
  legend: legends,
  series: series,
  graphic: graphic,
});
</script>
</body>
</html>
